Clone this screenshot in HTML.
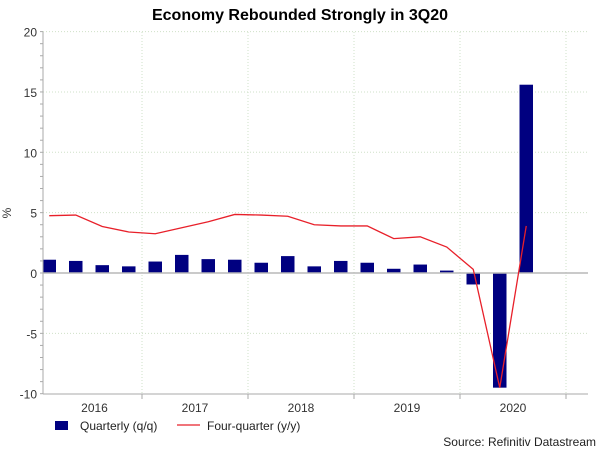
<!DOCTYPE html>
<html><head><meta charset="utf-8"><style>
body{margin:0;background:#fff;width:600px;height:450px;overflow:hidden;font-family:"Liberation Sans",Arial,sans-serif}
</style></head><body>
<svg width="600" height="450" xmlns="http://www.w3.org/2000/svg">
<text x="300" y="20" text-anchor="middle" font-size="16" font-weight="bold">Economy Rebounded Strongly in 3Q20</text>
<text transform="translate(11,213) rotate(-90)" text-anchor="middle" font-size="12" fill="#333">%</text>
<g id="grid"></g><g id="bars"></g><g id="axes"></g><g id="line"></g>
<g>
<rect x="55" y="421" width="13" height="9" fill="#000080"/>
<text x="80" y="430" font-size="12" fill="#222">Quarterly (q/q)</text>
<line x1="177" y1="425" x2="200" y2="425" stroke="#e8202a" stroke-width="1.3"/>
<text x="207" y="430" font-size="12" fill="#222">Four-quarter (y/y)</text>
</g>
<text x="596" y="446" text-anchor="end" font-size="12" fill="#222">Source: Refinitiv Datastream</text>
</svg>
<script>
const years=["2016","2017","2018","2019","2020"];
const yTicks=[-10,-5,0,5,10,15,20];
const qoq=[1.1,1.0,0.65,0.55,0.95,1.5,1.15,1.1,0.85,1.4,0.55,1.0,0.85,0.35,0.7,0.2,-0.95,-9.5,15.6];
const yoy=[4.75,4.8,3.85,3.4,3.25,3.75,4.25,4.85,4.8,4.7,4.0,3.9,3.9,2.85,3.0,2.15,0.3,-9.5,3.9];
const NS="http://www.w3.org/2000/svg";
const L=43,R=588,T=32,B=394,x0=36,qw=26.5;
const y=v=>273-v*12.07;
const xq=i=>x0+qw*(i+0.5);
const xy=k=>x0+qw*4*k;
function mk(t,a,p){const e=document.createElementNS(NS,t);for(const k in a)e.setAttribute(k,a[k]);document.getElementById(p).appendChild(e);return e;}
yTicks.forEach(v=>{
 if(v!==0&&v!==-10){const g=mk('line',{x1:L,x2:R,y1:y(v),y2:y(v),stroke:'#cfe0c8','stroke-dasharray':'1,2'},'grid');
 
 }
 const t=mk('text',{x:37,y:y(v)+5,'text-anchor':'end','font-size':12,fill:'#333'},'axes');t.textContent=v;
 
 
});
for(let v=-10;v<=20;v++){const m=mk('line',{x1:L-3,x2:L,y1:y(v),y2:y(v),stroke:'#aaa'},'axes');
 
 }
for(let k=1;k<=5;k++){const g=mk('line',{x1:xy(k),x2:xy(k),y1:T,y2:B,stroke:'#cfe0c8','stroke-dasharray':'1,2'},'grid');
 
 
 const tk=mk('line',{x1:xy(k),x2:xy(k),y1:B,y2:B+5,stroke:'#aaa'},'axes');
 
 }
years.forEach((yr,k)=>{const cx=k===0?(L+xy(1))/2+2:xy(k)+qw*2;
 const t=mk('text',{x:cx,y:412,'text-anchor':'middle','font-size':12,fill:'#333'},'axes');t.textContent=yr;
 
 });
qoq.forEach((v,i)=>{const r=mk('rect',{x:xq(i)-6.75,width:13.5,y:Math.min(y(v),y(0)),height:Math.abs(y(v)-y(0)),fill:'#000080'},'bars');
 
 });
const z=mk('line',{x1:L,x2:R,y1:y(0),y2:y(0),stroke:'#b8b8b8','stroke-width':1.5},'axes');


const la=mk('line',{x1:L,x2:L,y1:T,y2:B,stroke:'#aaa'},'axes');


const ba=mk('line',{x1:L,x2:R,y1:B,y2:B,stroke:'#aaa'},'axes');


const pl=mk('polyline',{points:yoy.map((v,i)=>xq(i)+','+y(v)).join(' '),fill:'none',stroke:'#e8202a','stroke-width':1.3},'line');


</script>
</body></html>
